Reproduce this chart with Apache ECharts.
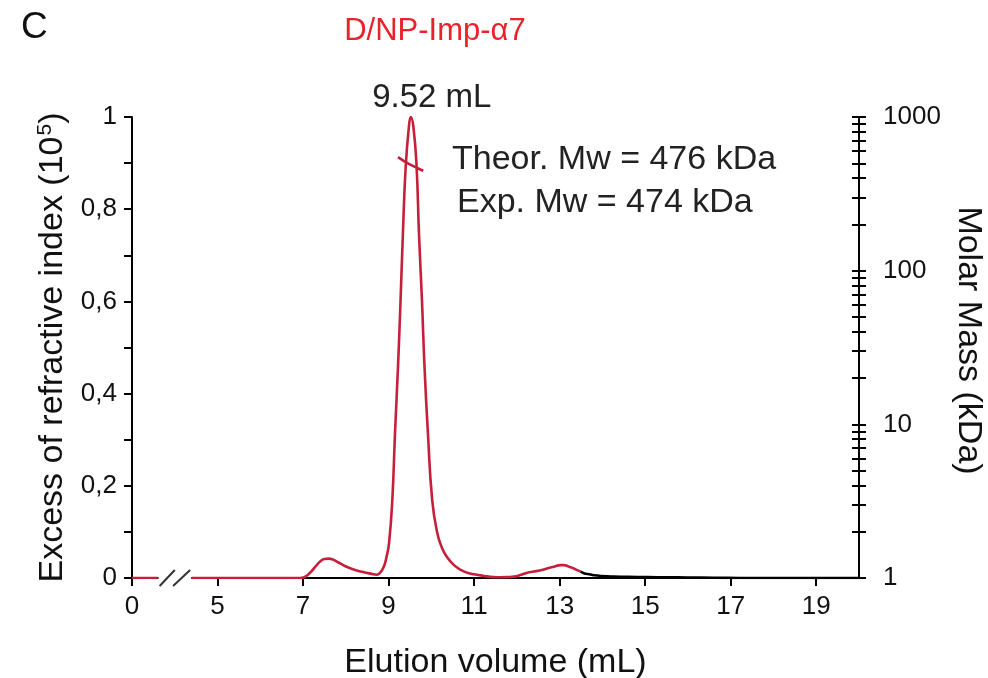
<!DOCTYPE html>
<html><head><meta charset="utf-8">
<script src="https://cdn.jsdelivr.net/npm/echarts@6/dist/echarts.min.js"></script>
<style>html,body{margin:0;padding:0;background:#fff}#c{width:988px;height:678px}</style>
</head><body><div id="c"></div>
<script>
// ---- data ----
const xTickValues = [0, 5, 7, 9, 11, 13, 15, 17, 19];
const mmTickValues = [1,2,3,4,5,6,7,8,9,10,20,30,40,50,60,70,80,90,100,200,300,400,500,600,700,800,900,1000];
const riVolume = [0, 0.6, 2.5, 4.4, 6.95, 7.0, 7.1, 7.2, 7.3, 7.4, 7.5, 7.6, 7.7, 7.8, 7.9, 8.0, 8.2, 8.4, 8.6, 8.72, 8.8, 8.89, 8.95, 9.01, 9.087, 9.15, 9.22, 9.28, 9.335, 9.40, 9.475, 9.52, 9.58, 9.655, 9.71, 9.78, 9.84, 9.92, 10.02, 10.14, 10.25, 10.37, 10.53, 10.7, 10.84, 11.0, 11.23, 11.45, 11.62, 11.8, 11.93, 12.1, 12.245, 12.4, 12.56, 12.72, 12.87, 13.02, 13.1, 13.18, 13.3, 13.41, 13.49];
const riValue  = [0, 0, '-', 0, 0, 0.001, 0.006, 0.015, 0.026, 0.036, 0.041, 0.042, 0.040, 0.035, 0.030, 0.025, 0.018, 0.013, 0.009, 0.007, 0.011, 0.025, 0.045, 0.075, 0.169, 0.314, 0.458, 0.603, 0.748, 0.892, 0.979, 1.0, 0.979, 0.892, 0.748, 0.603, 0.458, 0.314, 0.169, 0.097, 0.065, 0.045, 0.028, 0.017, 0.0115, 0.008, 0.0045, 0.002, 0.0015, 0.002, 0.003, 0.007, 0.0115, 0.014, 0.017, 0.021, 0.0245, 0.028, 0.028, 0.026, 0.022, 0.017, 0.014];
const tailVolume = [13.49, 13.65, 13.8, 13.96, 14.27, 14.6, 15.05, 15.5, 16.0, 16.6, 17.2, 20];
const tailValue  = [0.014, 0.0087, 0.006, 0.0045, 0.003, 0.0025, 0.002, 0.0015, 0.001, 0.0005, 0, 0];
const massVolume = [9.22, 9.37, 9.52, 9.67, 9.81];
const massValue  = [548, 515, 488, 466, 447];
const peakVolume = 9.52, peakValue = 1.0;

const pair = (xs, ys) => xs.map((x, i) => [x, ys[i]]);
const FONT = '"Liberation Sans", Arial, sans-serif';
const RED = '#c61f3b';
const TICK_FS = 26, NAME_FS = 34;

const chart = echarts.init(document.getElementById('c'), null, {renderer: 'canvas'});
const logAxisBase = {
  type: 'log', logBase: 10, min: 1, max: 1000, position: 'right',
  splitLine: {show: false},
  axisTick: {show: true, length: 7, customValues: mmTickValues, lineStyle: {color: '#000', width: 2}},
  minorTick: {show: false}
};
chart.setOption({
  animation: false,
  backgroundColor: '#fff',
  grid: {left: 132, right: 129, top: 117, bottom: 100, containLabel: false, outerBoundsMode: 'none'},
  xAxis: {
    type: 'value', min: 0, max: 20,
    breaks: [{start: 0.6, end: 4.4, gap: 0.8}],
    breakArea: {show: false},
    name: 'Elution volume (mL)', nameLocation: 'middle', nameGap: 68,
    nameTextStyle: {fontFamily: FONT, fontSize: NAME_FS, color: '#111'},
    axisLine: {onZero: false, lineStyle: {color: '#000', width: 2}},
    axisTick: {show: true, length: 8, customValues: xTickValues, lineStyle: {color: '#000', width: 2}},
    axisLabel: {customValues: xTickValues, fontFamily: FONT, fontSize: TICK_FS, color: '#111', margin: 16},
    splitLine: {show: false}
  },
  yAxis: [
    {
      type: 'value', min: 0, max: 1, interval: 0.2, position: 'left',
      name: 'Excess of refractive index (10{sup|5})', nameLocation: 'middle', nameGap: 60,
      nameTextStyle: {fontFamily: FONT, fontSize: NAME_FS, color: '#111', rich: {sup: {fontFamily: FONT, fontSize: 21, color: '#111', verticalAlign: 'top', padding: [0, 0, 16, 1]}}},
      axisLine: {show: true, lineStyle: {color: '#000', width: 2}},
      axisTick: {show: true, length: 8, lineStyle: {color: '#000', width: 2}},
      minorTick: {show: true, splitNumber: 2, length: 8, lineStyle: {color: '#000', width: 2}},
      axisLabel: {fontFamily: FONT, fontSize: TICK_FS, color: '#111', margin: 15, formatter: v => String(v).replace('.', ',')},
      splitLine: {show: false}
    },
    Object.assign({}, logAxisBase, {
      name: 'Molar Mass (kDa)', nameLocation: 'middle', nameGap: 85, nameRotate: -90,
      nameTextStyle: {fontFamily: FONT, fontSize: NAME_FS, color: '#111', padding: [0, 14, 0, 0]},
      axisLine: {show: true, lineStyle: {color: '#000', width: 2}},
      axisLabel: {fontFamily: FONT, fontSize: TICK_FS, color: '#111', margin: 24, formatter: v => String(v)}
    }),
    Object.assign({}, logAxisBase, {
      axisLine: {show: false},
      axisTick: Object.assign({}, logAxisBase.axisTick, {inside: true}),
      axisLabel: {show: false}
    })
  ],
  series: [
    {
      type: 'line', xAxisIndex: 0, yAxisIndex: 0, data: pair(riVolume, riValue),
      showSymbol: false, smooth: 0.5, connectNulls: false,
      lineStyle: {color: RED, width: 2.6}, z: 3,
      markPoint: {
        symbol: 'circle', symbolSize: 0,
        data: [{coord: [peakVolume, peakValue], value: peakVolume}],
        label: {show: true, position: 'top', distance: 6, offset: [21, 3], formatter: p => p.value.toFixed(2) + ' mL', fontFamily: FONT, fontSize: 33, color: '#222'}
      }
    },
    {
      type: 'line', xAxisIndex: 0, yAxisIndex: 0, data: pair(tailVolume, tailValue),
      showSymbol: false, smooth: 0.4, smoothMonotone: 'x',
      lineStyle: {color: '#000', width: 2.6}, z: 3
    },
    {
      type: 'line', xAxisIndex: 0, yAxisIndex: 1, data: pair(massVolume, massValue),
      showSymbol: false, smooth: true,
      lineStyle: {color: RED, width: 2.6}, z: 4
    }
  ]
});

// break marker and annotations
const xs = chart.convertToPixel({xAxisIndex: 0}, 0.6);
const xe = chart.convertToPixel({xAxisIndex: 0}, 4.4);
const y0 = chart.convertToPixel({yAxisIndex: 0}, 0);
const w = xe - xs;
chart.setOption({
  graphic: [
    {type: 'rect', z: 100, shape: {x: xs + 1, y: y0 - 6, width: w - 2, height: 12}, style: {fill: '#fff'}},
    {type: 'line', z: 101, shape: {x1: xs + 2, y1: y0 + 8, x2: xs + w * 0.5, y2: y0 - 8}, style: {stroke: '#333', lineWidth: 2}},
    {type: 'line', z: 101, shape: {x1: xs + w * 0.45, y1: y0 + 8, x2: xs + w * 0.95, y2: y0 - 8}, style: {stroke: '#333', lineWidth: 2}},
    {type: 'text', left: 21, top: 9, style: {text: 'C', fontFamily: FONT, fontSize: 37, fill: '#111'}},
    {type: 'text', x: 435, y: 31, style: {text: 'D/NP-Imp-α7', fontFamily: FONT, fontSize: 31, fill: '#e8232b', textAlign: 'center', textVerticalAlign: 'middle'}},
    {type: 'text', x: 452, y: 160, style: {text: 'Theor. Mw = 476 kDa', fontFamily: FONT, fontSize: 34, fill: '#222', textVerticalAlign: 'middle'}},
    {type: 'text', x: 457, y: 203, style: {text: 'Exp. Mw = 474 kDa', fontFamily: FONT, fontSize: 34, fill: '#222', textVerticalAlign: 'middle'}}
  ]
});
</script>
</body></html>
